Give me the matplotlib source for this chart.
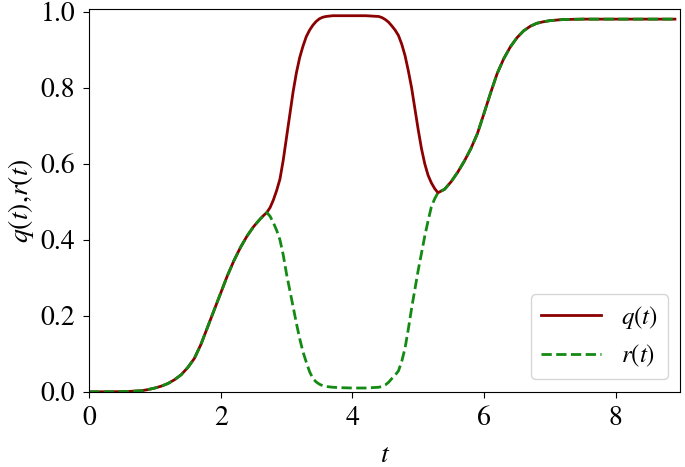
import matplotlib
matplotlib.use("Agg")
import matplotlib.pyplot as plt

# values, in segments of t
# shared start (q == r)
t_a = [0.0, 0.2, 0.4, 0.6, 0.8, 0.9, 1.0, 1.1, 1.2, 1.3, 1.4, 1.5, 1.6,
       1.7, 1.8, 1.9, 2.0, 2.1, 2.2, 2.3, 2.4, 2.5, 2.6, 2.65]
y_a = [0.0, 0.0001, 0.0003, 0.001, 0.003, 0.006, 0.01, 0.015, 0.022,
       0.032, 0.045, 0.064, 0.088, 0.125, 0.17, 0.215, 0.26, 0.305, 0.345,
       0.38, 0.41, 0.435, 0.455, 0.464]

# q jumps up, r falls to ~0
t_b = [2.7, 2.75, 2.8, 2.85, 2.9, 2.95, 3.0, 3.05, 3.1, 3.15, 3.2, 3.25,
       3.3, 3.35, 3.4, 3.45, 3.5, 3.55, 3.6, 3.7]
q_b = [0.472, 0.485, 0.505, 0.53, 0.56, 0.61, 0.67, 0.73, 0.79, 0.84,
       0.88, 0.91, 0.935, 0.952, 0.965, 0.975, 0.982, 0.986, 0.988, 0.99]
r_b = [0.472, 0.462, 0.445, 0.425, 0.40, 0.36, 0.31, 0.267, 0.224, 0.18,
       0.14, 0.105, 0.078, 0.053, 0.035, 0.026, 0.02, 0.016, 0.014, 0.012]

# plateaus
t_c = [3.8, 4.0, 4.2, 4.3]
q_c = [0.99, 0.99, 0.99, 0.989]
r_c = [0.011, 0.01, 0.01, 0.011]

# q drops, r rises, they meet at t ~ 5.3
t_d = [4.4, 4.45, 4.5, 4.55, 4.6, 4.65, 4.7, 4.75, 4.8, 4.85, 4.9, 4.95,
       5.0, 5.05, 5.1, 5.15, 5.2, 5.25, 5.3]
q_d = [0.988, 0.985, 0.98, 0.973, 0.963, 0.952, 0.938, 0.915, 0.885,
       0.845, 0.80, 0.745, 0.69, 0.64, 0.60, 0.57, 0.55, 0.535, 0.524]
r_d = [0.012, 0.014, 0.018, 0.025, 0.035, 0.044, 0.055, 0.08, 0.115,
       0.165, 0.22, 0.27, 0.32, 0.365, 0.41, 0.45, 0.487, 0.508, 0.524]

# shared end (q == r)
t_e = [5.4, 5.5, 5.6, 5.7, 5.8, 5.9, 6.0, 6.1, 6.2, 6.3, 6.4, 6.5, 6.6,
       6.7, 6.8, 6.9, 7.0, 7.2, 7.5, 8.0, 8.9]
y_e = [0.533, 0.553, 0.578, 0.607, 0.64, 0.68, 0.733, 0.787, 0.838,
       0.877, 0.908, 0.932, 0.95, 0.962, 0.97, 0.974, 0.977, 0.98, 0.981,
       0.981, 0.981]

t = t_a + t_b + t_c + t_d + t_e
q = y_a + q_b + q_c + q_d + y_e
r = y_a + r_b + r_c + r_d + y_e

# STIX ships with matplotlib and is Times-like
plt.rcParams["font.family"] = ["STIXGeneral", "DejaVu Serif"]
plt.rcParams["mathtext.fontset"] = "stix"
plt.rcParams["font.size"] = 20

fig = plt.figure(figsize=(6.85, 4.67), dpi=100)
ax = fig.add_axes([0.130, 0.161, 0.863, 0.820])

ax.plot(t, q, color="#8b0000", lw=2, label="$q(t)$")
ax.plot(t, r, color="#138a13", lw=2, ls="--", label="$r(t)$")

ax.set_xlim(0, 8.98)
ax.set_ylim(0, 1.008)
ax.set_xticks([0, 2, 4, 6, 8])
ax.set_yticks([0.0, 0.2, 0.4, 0.6, 0.8, 1.0])
ax.tick_params(length=4.5, pad=5.5)
ax.set_xlabel("$t$", labelpad=9)
ax.set_ylabel("$q(t){,}r(t)$", labelpad=3)
ax.legend(loc="lower right", fontsize=18, handlelength=2.4)

fig.savefig("out.png", dpi=100)
